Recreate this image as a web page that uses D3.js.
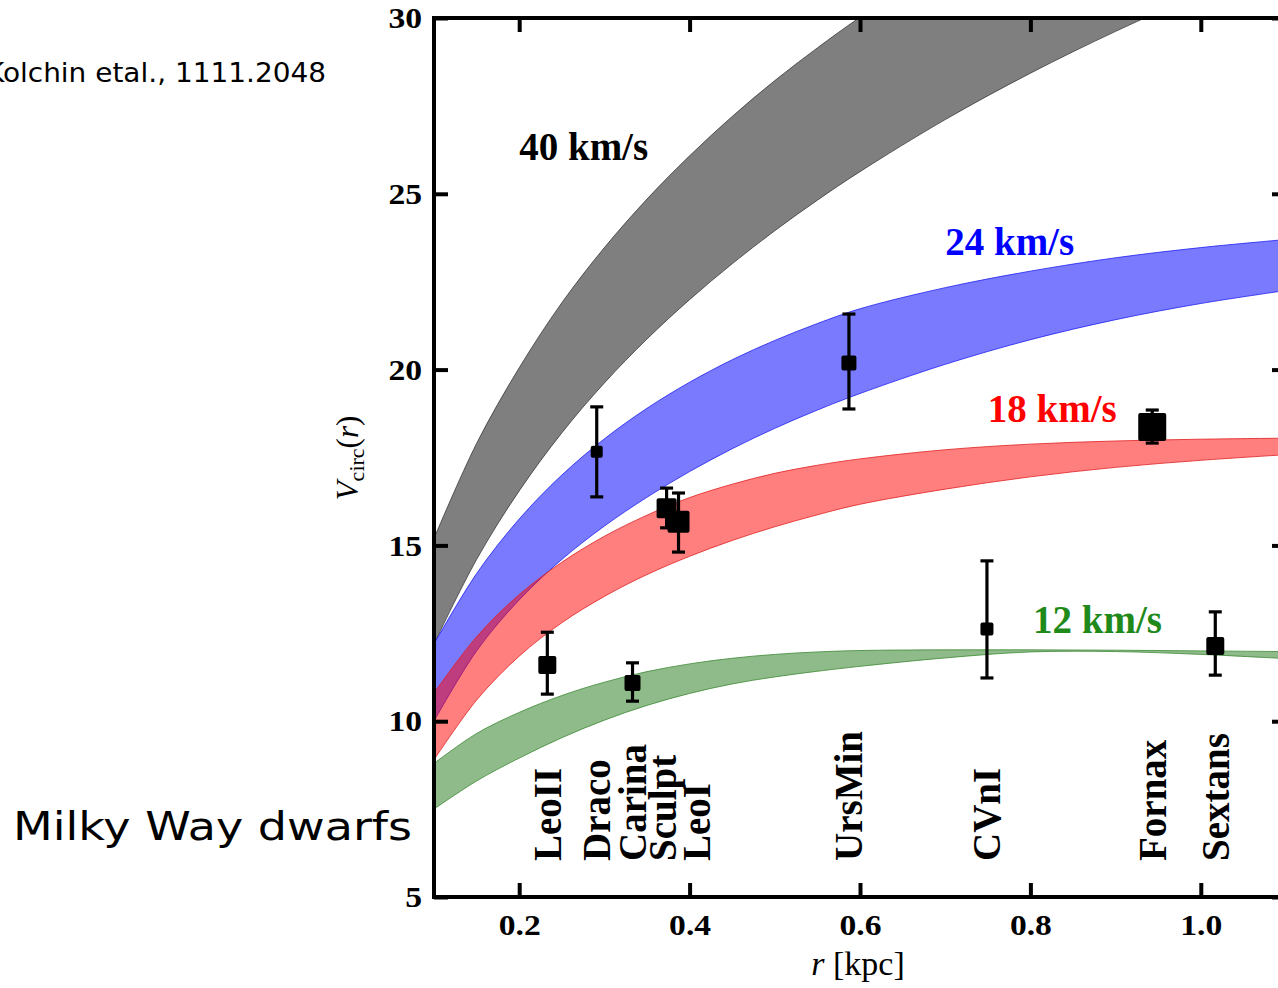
<!DOCTYPE html>
<html>
<head>
<meta charset="utf-8">
<script src="https://cdn.jsdelivr.net/npm/d3@7/dist/d3.min.js"></script>
<style>
  html, body { margin: 0; padding: 0; background: #fff; overflow: hidden; }
  svg { display: block; }
</style>
</head>
<body>
<svg id="chart" width="1278" height="988"></svg>
<script>
// ---- data -------------------------------------------------------------
// radius sample points (kpc) for the halo bands
const bandR = [0.1, 0.15, 0.2, 0.25, 0.3, 0.35, 0.4, 0.45, 0.5, 0.55, 0.6, 0.7, 0.8, 0.9, 1.0, 1.1];

// V_circ envelopes (km/s) for each Vmax halo family
const grayUpper  = [15.2, 17.9, 20.05, 21.9, 23.47, 24.85, 26.08, 27.2, 28.22, 29.15, 30.02, 31.6, 33.0, 34.2, 35.3, 36.3];
const grayLower  = [12.2, 14.6, 16.55, 18.2, 19.62, 20.87, 21.99, 23.01, 23.95, 24.82, 25.63, 27.11, 28.43, 29.62, 30.7, 31.7];
const blueUpper  = [12.2, 14.2, 15.75, 17.0, 18.03, 18.9, 19.64, 20.28, 20.83, 21.31, 21.73, 22.33, 22.8, 23.18, 23.47, 23.7];
const blueLower  = [10.0, 12.0, 13.45, 14.6, 15.55, 16.37, 17.1, 17.75, 18.33, 18.85, 19.32, 20.15, 20.85, 21.42, 21.88, 22.25];
const redUpper   = [10.8, 12.4, 13.6, 14.52, 15.26, 15.86, 16.36, 16.74, 17.05, 17.28, 17.46, 17.72, 17.88, 17.97, 18.02, 18.05];
const redLower   = [ 8.9, 10.6, 11.85, 12.8, 13.55, 14.17, 14.69, 15.14, 15.53, 15.87, 16.17, 16.6, 16.95, 17.22, 17.42, 17.58];
const greenUpper = [ 8.8,  9.65, 10.25, 10.73, 11.11, 11.41, 11.63, 11.79, 11.9, 11.97, 12.01, 12.03, 12.03, 12.02, 12.0, 11.98];
const greenLower = [ 7.5,  8.3,  8.95, 9.53, 10.03, 10.45, 10.79, 11.06, 11.26, 11.42, 11.56, 11.8, 11.97, 11.98, 11.9, 11.78];

const bandNames = ["40 km/s", "24 km/s", "18 km/s", "12 km/s"];

// Milky Way dwarf spheroidals: half-light radius (kpc) and V_circ with errors
const dwarfs    = ["LeoII", "Draco", "Carina", "Sculpt", "LeoI", "UrsMin", "CVnI", "Fornax", "Sextans"];
const dwarfR    = [0.233, 0.291, 0.333, 0.373, 0.387, 0.587, 0.749, 0.943, 1.017];
const dwarfV    = [11.60, 17.66, 11.09, 16.06, 15.67, 20.19, 12.62, 18.37, 12.14];
const dwarfVhi  = [12.53, 18.94, 11.66, 16.63, 16.49, 21.58, 14.56, 18.85, 13.11];
const dwarfVlo  = [10.77, 16.38, 10.57, 15.50, 14.81, 18.88, 11.23, 17.91, 11.31];

const xTicks = [0.2, 0.4, 0.6, 0.8, 1.0];
const xTickLabels = ["0.2", "0.4", "0.6", "0.8", "1.0"];
const yTicks = [5, 10, 15, 20, 25, 30];
const yTickLabels = ["5", "10", "15", "20", "25", "30"];

// ---- styling ----------------------------------------------------------
const bandStyle = [
  { fill: "rgba(0,0,0,0.5)",     stroke: "#3a3a3a", label: "#000000" },
  { fill: "rgba(0,0,255,0.52)",  stroke: "#2020f0", label: "#0000ff" },
  { fill: "rgba(255,0,0,0.5)",   stroke: "#e02020", label: "#ff0000" },
  { fill: "rgba(30,120,20,0.5)", stroke: "#3d8a35", label: "#1f8a1a" }
];
const markerSize = { LeoII: 18, Draco: 12, Carina: 16, Sculpt: 20, LeoI: 22, UrsMin: 15, CVnI: 13, Fornax: 28, Sextans: 18 };
const labelNudge = { Sculpt: -4, LeoI: 18 };
const serif = "'Liberation Serif', 'Times New Roman', serif";
const hand = "'DejaVu Sans', sans-serif";

// ---- layout -----------------------------------------------------------
const svg = d3.select("#chart");
const x = d3.scaleLinear().domain([0.1, 1.1]).range([434, 1286]);
const y = d3.scaleLinear().domain([5, 30]).range([897, 18]);

svg.append("defs").append("clipPath").attr("id", "plotClip")
  .append("rect").attr("x", x(0.1)).attr("y", y(30))
  .attr("width", x(1.1) - x(0.1)).attr("height", y(5) - y(30));

const plot = svg.append("g").attr("clip-path", "url(#plotClip)");

// ---- bands ------------------------------------------------------------
const bands = [
  [grayUpper, grayLower],
  [blueUpper, blueLower],
  [redUpper, redLower],
  [greenUpper, greenLower]
];

const curve = d3.curveCatmullRom.alpha(0.5);
const area = d3.area().curve(curve)
  .x(d => x(d.r)).y0(d => y(d.lo)).y1(d => y(d.hi));
const line = d3.line().curve(curve).x(d => x(d.r)).y(d => y(d.v));

bands.forEach(([hi, lo], i) => {
  const pts = bandR.map((r, k) => ({ r, hi: hi[k], lo: lo[k] }));
  plot.append("path").attr("d", area(pts))
    .attr("fill", bandStyle[i].fill).attr("stroke", "none");
  [hi, lo].forEach(edge => {
    plot.append("path")
      .attr("d", line(bandR.map((r, k) => ({ r, v: edge[k] }))))
      .attr("fill", "none").attr("stroke", bandStyle[i].stroke)
      .attr("stroke-width", 1).attr("stroke-opacity", 0.8);
  });
});

// band labels
const bandLabelPos = [
  { r: 0.2,   v: 25.95 },
  { r: 0.7,   v: 23.25 },
  { r: 0.75,  v: 18.5 },
  { r: 0.803, v: 12.5 }
];
bandNames.forEach((t, i) => {
  svg.append("text")
    .attr("x", x(bandLabelPos[i].r)).attr("y", y(bandLabelPos[i].v))
    .attr("font-family", serif).attr("font-weight", "bold")
    .attr("font-size", 39).attr("fill", bandStyle[i].label)
    .text(t);
});

// ---- dwarf measurements -----------------------------------------------
const pts = svg.append("g");
dwarfs.forEach((name, i) => {
  const cx = x(dwarfR[i]);
  const s = markerSize[name];
  pts.append("line")
    .attr("x1", cx).attr("x2", cx)
    .attr("y1", y(dwarfVhi[i])).attr("y2", y(dwarfVlo[i]))
    .attr("stroke", "#000").attr("stroke-width", 3.2);
  [dwarfVhi[i], dwarfVlo[i]].forEach(v => {
    pts.append("line")
      .attr("x1", cx - 6.5).attr("x2", cx + 6.5)
      .attr("y1", y(v)).attr("y2", y(v))
      .attr("stroke", "#000").attr("stroke-width", 3.2);
  });
  pts.append("rect")
    .attr("x", cx - s / 2).attr("y", y(dwarfV[i]) - s / 2)
    .attr("width", s).attr("height", s).attr("rx", 2)
    .attr("fill", "#000");
});

// dwarf name labels, written upwards
dwarfs.forEach((name, i) => {
  const lx = x(dwarfR[i]) + (labelNudge[name] || 0);
  svg.append("text")
    .attr("transform", `translate(${lx},861) rotate(-90)`)
    .attr("dy", "0.34em")
    .attr("font-family", serif).attr("font-weight", "bold")
    .attr("font-size", 39).attr("fill", "#000")
    .text(name);
});

// ---- axes -------------------------------------------------------------
const stretch = 1.12;
function styleAxis(g, showLabels) {
  g.select(".domain").remove();
  g.selectAll(".tick line").attr("stroke", "#000").attr("stroke-width", 4);
  g.selectAll(".tick text")
    .attr("font-family", serif).attr("font-weight", "bold")
    .attr("font-size", 30).attr("fill", "#000")
    .style("display", showLabels ? null : "none");
  if (showLabels) {
    g.selectAll(".tick text").each(function () {
      const w = this.getComputedTextLength();
      d3.select(this).attr("textLength", w * stretch).attr("lengthAdjust", "spacingAndGlyphs");
    });
  }
}

svg.append("g").attr("transform", `translate(0,${y(5)})`)
  .call(d3.axisBottom(x).tickValues(xTicks).tickFormat((d, i) => xTickLabels[i])
    .tickSizeInner(-14).tickSizeOuter(0).tickPadding(17))
  .call(g => styleAxis(g, true));

svg.append("g").attr("transform", `translate(0,${y(30)})`)
  .call(d3.axisTop(x).tickValues(xTicks).tickSizeInner(-14).tickSizeOuter(0))
  .call(g => styleAxis(g, false));

svg.append("g").attr("transform", `translate(${x(0.1)},0)`)
  .call(d3.axisLeft(y).tickValues(yTicks).tickFormat((d, i) => yTickLabels[i])
    .tickSizeInner(-14).tickSizeOuter(0).tickPadding(12))
  .call(g => styleAxis(g, true));

svg.append("g").attr("transform", `translate(${x(1.1)},0)`)
  .call(d3.axisRight(y).tickValues(yTicks).tickSizeInner(-14).tickSizeOuter(0))
  .call(g => styleAxis(g, false));

// frame
svg.append("rect")
  .attr("x", x(0.1)).attr("y", y(30))
  .attr("width", x(1.1) - x(0.1)).attr("height", y(5) - y(30))
  .attr("fill", "none").attr("stroke", "#000").attr("stroke-width", 4);

// axis titles
svg.append("text")
  .attr("x", 858).attr("y", 975)
  .attr("text-anchor", "middle")
  .attr("font-family", serif).attr("font-size", 34).attr("fill", "#000")
  .call(t => {
    t.append("tspan").attr("font-style", "italic").text("r");
    t.append("tspan").text(" [kpc]");
  });

svg.append("text")
  .attr("transform", "translate(358,458) rotate(-90)")
  .attr("text-anchor", "middle")
  .attr("font-family", serif).attr("font-size", 31).attr("fill", "#000")
  .call(t => {
    t.append("tspan").attr("font-style", "italic").text("V");
    t.append("tspan").attr("font-size", 22).attr("dy", 6).text("circ");
    t.append("tspan").attr("dy", -6).text("(");
    t.append("tspan").attr("font-style", "italic").text("r");
    t.append("tspan").text(")");
  });

// annotations
svg.append("text")
  .attr("x", 326).attr("y", 82).attr("text-anchor", "end")
  .attr("font-family", hand).attr("font-size", 27).attr("fill", "#000")
  .attr("textLength", 340).attr("lengthAdjust", "spacingAndGlyphs")
  .text("Kolchin etal., 1111.2048");

svg.append("text")
  .attr("x", 13).attr("y", 840)
  .attr("font-family", hand).attr("font-size", 39).attr("fill", "#000")
  .attr("textLength", 399).attr("lengthAdjust", "spacingAndGlyphs")
  .text("Milky Way dwarfs");
</script>
</body>
</html>
